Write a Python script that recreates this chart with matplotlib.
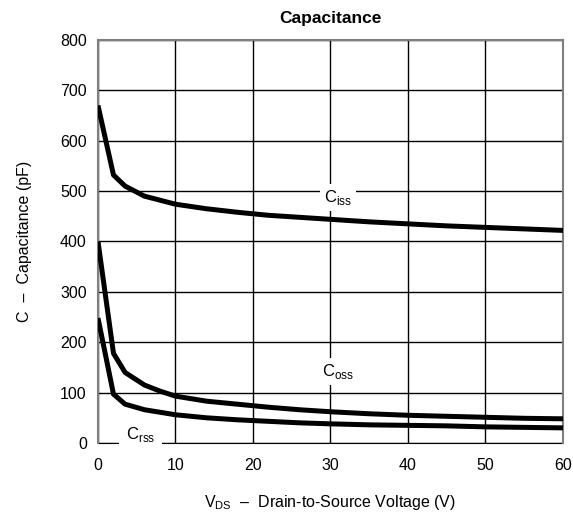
import matplotlib.pyplot as plt

plt.rcParams['font.family'] = ['Liberation Sans', 'DejaVu Sans']
plt.rcParams['mathtext.fontset'] = 'custom'
plt.rcParams['mathtext.rm'] = 'Liberation Sans'

vds = [0, 2, 3.5, 6, 8, 10, 14, 18, 22, 26, 30, 35, 40, 45, 50, 55, 60]
ciss = [670, 532, 510, 490, 482, 474, 465, 458, 452, 448, 444, 439, 435, 431, 428, 425, 422]
coss = [400, 178, 140, 115, 103, 93, 83, 77, 71, 66, 62, 58, 55, 53, 51, 49, 48]
crss = [248, 97, 77, 66, 61, 56, 50, 46, 43, 40, 38, 36, 35, 34, 32, 31, 30]

fig = plt.figure(figsize=(5.73, 5.23), dpi=100)
ax = fig.add_axes([0.171, 0.153, 0.8115, 0.7705])

for c in (ciss, coss, crss):
    ax.plot(vds, c, color='black', lw=3.6, solid_capstyle='butt', zorder=3)

ax.set_xlim(0, 60)
ax.set_ylim(0, 800)
ax.set_xticks(range(0, 61, 10))
ax.set_yticks(range(0, 801, 100))
ax.grid(True, color='black', lw=1.0)
ax.set_axisbelow(True)
ax.tick_params(length=0, labelsize=11.5)
ax.tick_params(axis='x', pad=11)
ax.tick_params(axis='y', pad=8)
for s in ('left', 'top', 'right'):
    ax.spines[s].set_color('#7f7f7f')
    ax.spines[s].set_linewidth(1.5)
ax.spines['bottom'].set_color('black')
ax.spines['bottom'].set_zorder(1)

box = dict(facecolor='white', edgecolor='none', pad=3)
ax.text(31, 487, r'C$_{\mathregular{iss}}$', fontsize=12, ha='center', va='center', bbox=box, zorder=4)
ax.text(31, 142, r'C$_{\mathregular{oss}}$', fontsize=12, ha='center', va='center', bbox=box, zorder=4)
ax.text(5.5, 17, r'C$_{\mathregular{rss}}$', fontsize=12, ha='center', va='center',
        bbox=dict(facecolor='white', edgecolor='none', pad=5), zorder=4, clip_on=False)

ax.set_title('Capacitance', fontsize=12.5, fontweight='bold', pad=12)
ax.set_ylabel('C  –  Capacitance (pF)', fontsize=11.5, labelpad=20)
ax.set_xlabel(r'V$_{\mathregular{DS}}$  –  Drain-to-Source Voltage (V)', fontsize=11.5, labelpad=14)

fig.savefig('out.png', dpi=100)
